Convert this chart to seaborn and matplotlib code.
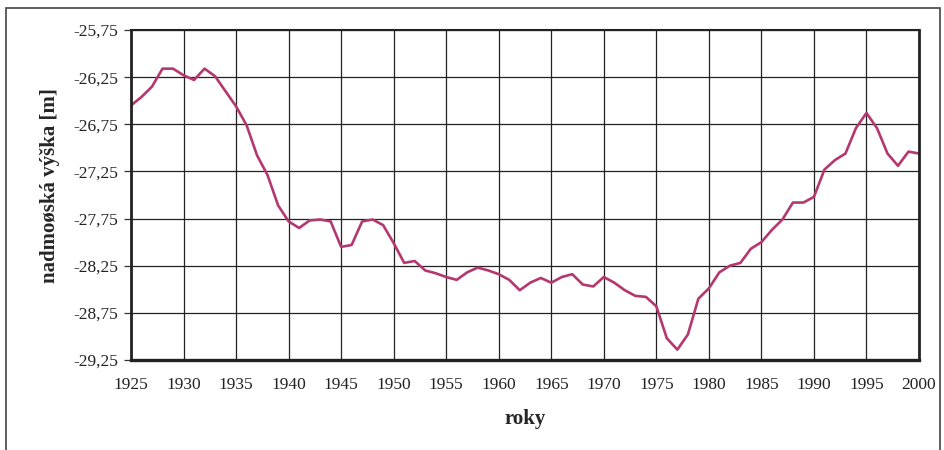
import numpy as np
import pandas as pd
import matplotlib.pyplot as plt
import matplotlib.ticker as mticker
from matplotlib.patches import Rectangle
import seaborn as sns

# Data
years = list(range(1925, 2001))
levels = [
    -26.55, -26.46, -26.35, -26.16, -26.16, -26.23, -26.28, -26.16, -26.24, -26.40,  # 1925-34
    -26.56, -26.76, -27.08, -27.29, -27.61, -27.78, -27.85, -27.77, -27.76, -27.78,  # 1935-44
    -28.05, -28.03, -27.78, -27.76, -27.82, -28.01, -28.22, -28.20, -28.30, -28.33,  # 1945-54
    -28.37, -28.40, -28.32, -28.27, -28.30, -28.34, -28.40, -28.51, -28.43, -28.38,  # 1955-64
    -28.43, -28.37, -28.34, -28.45, -28.47, -28.37, -28.43, -28.51, -28.57, -28.58,  # 1965-74
    -28.68, -29.02, -29.14, -28.98, -28.60, -28.49, -28.32, -28.25, -28.22, -28.07,  # 1975-84
    -28.00, -27.87, -27.76, -27.58, -27.58, -27.52, -27.23, -27.13, -27.06, -26.79,  # 1985-94
    -26.63, -26.79, -27.06, -27.19, -27.04, -27.06,                                  # 1995-2000
]
x_ticks = list(range(1925, 2001, 5))
y_ticks = [-29.25, -28.75, -28.25, -27.75, -27.25, -26.75, -26.25, -25.75]

df = pd.DataFrame({'rok': years, 'vyska': levels})

sns.set_style('white')
plt.rcParams['font.family'] = ['Liberation Serif', 'DejaVu Serif']

fig = plt.figure(figsize=(9.44, 4.5), dpi=100)
ax = fig.add_axes([131 / 944, 1 - 360 / 450, (919 - 131) / 944, 330 / 450])

sns.lineplot(data=df, x='rok', y='vyska', ax=ax, color='#b4376f', linewidth=1.9)

ax.set_xlim(1925, 2000)
ax.set_ylim(-29.25, -25.75)
ax.set_xticks(x_ticks)
ax.set_yticks(y_ticks)
ax.yaxis.set_major_formatter(mticker.FuncFormatter(lambda v, p: f'{v:.2f}'.replace('.', ',')))
ax.grid(True, color='#222222', linewidth=0.9)
ax.tick_params(axis='y', which='major', direction='out', length=5, width=0.9,
               color='#333333', left=True, labelsize=12.5, labelcolor='#222222', pad=4)
ax.tick_params(axis='x', which='major', length=0, labelsize=12.5, labelcolor='#222222', pad=12)

for side in ['left', 'bottom', 'top', 'right']:
    ax.spines[side].set_visible(True)
    ax.spines[side].set_color('#222222')
ax.spines['left'].set_linewidth(2)
ax.spines['bottom'].set_linewidth(2.4)
ax.spines['top'].set_linewidth(1.5)
ax.spines['right'].set_linewidth(2)

ax.set_xlabel('roky', fontsize=15, fontweight='bold', labelpad=12)
ax.set_ylabel('nadmoøská výška [m]', fontsize=15, fontweight='bold')
ax.yaxis.set_label_coords(-0.09, 0.53)

# outer frame around the chart
fig.patches.append(Rectangle((6 / 944, -0.05), (940 - 6) / 944, 1.05 - 8 / 450,
                             transform=fig.transFigure, fill=False,
                             edgecolor='#444444', linewidth=1.2))

fig.savefig('out.png', dpi=100)
